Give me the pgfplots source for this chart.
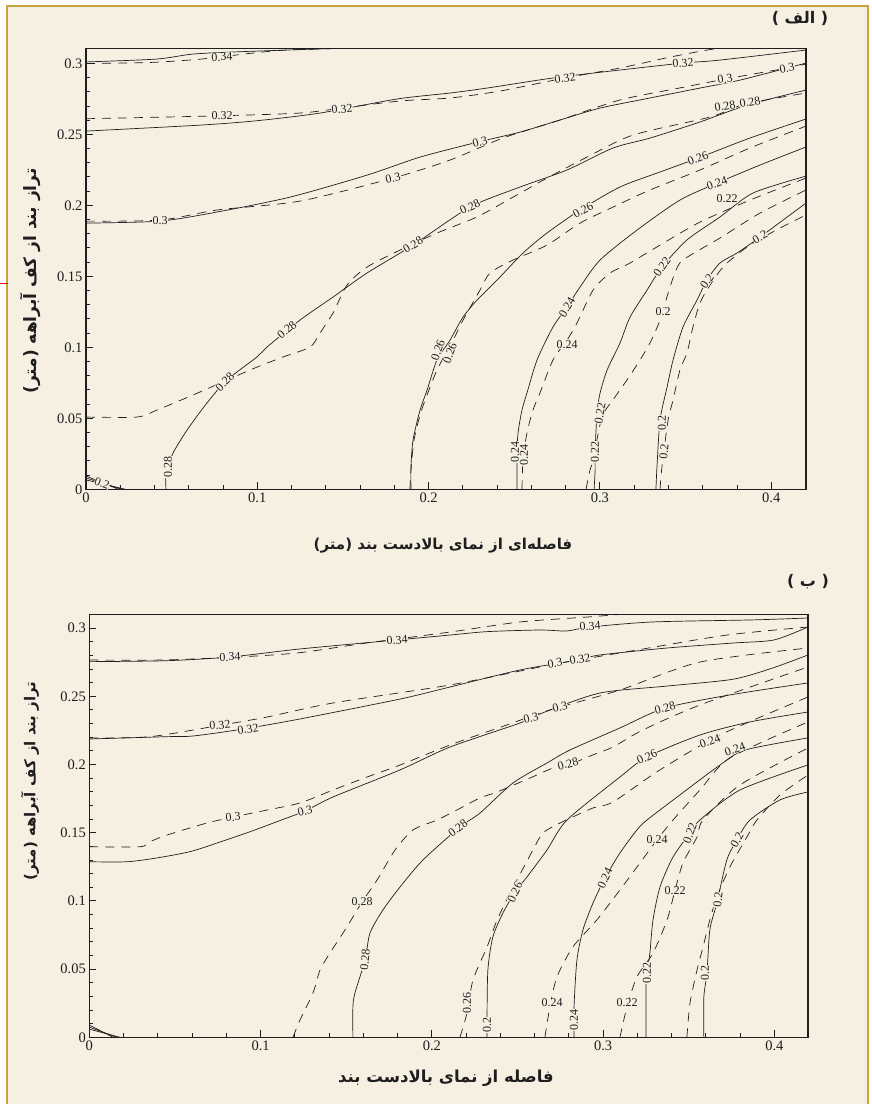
\documentclass[border=0pt]{standalone}
\usepackage{fontspec}
\setmainfont{Liberation Serif}
\newfontfamily\fa[Script=Arabic]{DejaVu Sans}
\TeXXeTstate=1
\usepackage{pgfplots}
\pgfplotsset{compat=1.18}
\definecolor{cream}{RGB}{245,240,226}
\definecolor{gold}{RGB}{201,163,64}
\definecolor{ink}{RGB}{30,30,30}
\pgfplotsset{
  contour/.style={
    scale only axis, xmin=0, ymin=0,
    axis line style={line width=1.5pt, ink},
    xtick={0,0.1,0.2,0.3,0.4}, ytick={0,0.05,0.1,0.15,0.2,0.25,0.3},
    minor x tick num=4, minor y tick num=4,
    tick align=inside, xtick pos=bottom, ytick pos=left,
    major tick length=7pt, minor tick length=4pt,
    every tick/.style={ink, line width=0.9pt},
    tick label style={font=\fontsize{14.5}{14.5}\selectfont, text=ink},
    scaled ticks=false,
    /pgf/number format/.cd, fixed, precision=2, assume math mode=true,
    /pgfplots/.cd,
    clip=true,
  },
  sl/.style={ink, line width=0.7pt, no marks, smooth, tension=0.45},
  dl/.style={ink, line width=0.7pt, no marks, smooth, tension=0.45, dash pattern=on 9pt off 7pt},
}
\tikzset{lbl/.style={font=\fontsize{12}{12}\selectfont, fill=cream, inner sep=0.3pt, text=ink}}
\newcommand{\lab}[4]{\node[lbl, rotate=#3] at (#1pt,-#2pt) {#4};}
\begin{document}
\begin{tikzpicture}
\useasboundingbox (0,0) rectangle (871pt,-1104pt);
\fill[white] (0,0) rectangle (871pt,-1104pt);
\fill[cream] (7pt,-6pt) rectangle (868pt,-1104pt);
\draw[gold, line width=2.5pt] (7pt,-1104pt) -- (7pt,-6pt) -- (868pt,-6pt) -- (868pt,-1104pt);
\draw[red, line width=1pt] (0pt,-283pt) -- (8pt,-283pt);

% ---------------- Panel A ----------------
\begin{axis}[contour, at={(86pt,-489.3pt)}, anchor=south west,
  width=720pt, height=441pt, xmax=0.4203, ymax=0.3106]
\addplot[sl] coordinates {(0,0.301)(0.041,0.303)(0.062,0.3065)(0.086,0.308)(0.125,0.3097)(0.16,0.311)(0.2,0.312)};
\addplot[dl] coordinates {(0,0.2999)(0.037,0.3006)(0.067,0.303)(0.097,0.3072)(0.117,0.3094)(0.144,0.3104)(0.17,0.312)};
\addplot[sl] coordinates {(0,0.2523)(0.0666,0.2565)(0.0998,0.2596)(0.1366,0.265)(0.1816,0.2749)(0.2125,0.2791)(0.2341,0.2826)(0.2726,0.2897)(0.3117,0.2953)(0.3485,0.3002)(0.3701,0.3023)(0.4203,0.3094)};
\addplot[dl] coordinates {(0,0.261)(0.0794,0.2631)(0.1249,0.265)(0.1494,0.2685)(0.1833,0.2735)(0.2125,0.2756)(0.2417,0.2805)(0.2796,0.2897)(0.3117,0.2967)(0.3409,0.3044)(0.3643,0.3097)(0.38,0.312)};
\addplot[sl] coordinates {(0,0.1875)(0.0432,0.1889)(0.0765,0.1953)(0.1191,0.2058)(0.1641,0.2213)(0.1951,0.234)(0.2289,0.2446)(0.2535,0.2516)(0.2767,0.2601)(0.3001,0.2685)(0.3292,0.2756)(0.3584,0.2826)(0.3818,0.2882)(0.4203,0.3002)};
\addplot[dl] coordinates {(0,0.1889)(0.0432,0.1896)(0.0765,0.1967)(0.1249,0.203)(0.1792,0.2192)(0.2125,0.2319)(0.2434,0.2474)(0.2767,0.2601)(0.3117,0.2742)(0.3467,0.2827)(0.373,0.2889)(0.4092,0.2967)(0.4203,0.2995)};
\addplot[sl] coordinates {(0.0467,0)(0.0467,0.0114)(0.0508,0.0255)(0.059,0.0417)(0.0706,0.0608)(0.0823,0.077)(0.0998,0.0932)(0.1057,0.1002)(0.1249,0.1192)(0.1442,0.1354)(0.164,0.1523)(0.1909,0.172)(0.2242,0.1988)(0.2534,0.2129)(0.2808,0.2249)(0.3077,0.2404)(0.3293,0.2474)(0.3584,0.2587)(0.3859,0.2706)(0.4203,0.2812)};
\addplot[dl] coordinates {(0,0.0509)(0.0298,0.0509)(0.0414,0.0558)(0.0665,0.0685)(0.0957,0.084)(0.115,0.0932)(0.1308,0.1002)(0.1366,0.1101)(0.1442,0.1242)(0.1524,0.1439)(0.164,0.1565)(0.1833,0.1685)(0.2049,0.1805)(0.2282,0.1918)(0.2493,0.2058)(0.2691,0.2192)(0.2925,0.234)(0.3193,0.2495)(0.3643,0.2622)(0.3847,0.2713)(0.4203,0.2791)};
\addplot[sl] coordinates {(0.1897,0)(0.1897,0.0157)(0.1909,0.0347)(0.195,0.0558)(0.1991,0.0699)(0.2049,0.0911)(0.2125,0.1051)(0.2201,0.1213)(0.2283,0.1333)(0.24,0.1474)(0.2551,0.1664)(0.2691,0.1805)(0.2884,0.1967)(0.3117,0.2129)(0.3351,0.2235)(0.3573,0.2333)(0.3876,0.2474)(0.4203,0.2608)};
\addplot[dl] coordinates {(0.1891,0)(0.1897,0.0136)(0.1915,0.0347)(0.195,0.0523)(0.198,0.0629)(0.2049,0.084)(0.2143,0.1051)(0.2201,0.1192)(0.23,0.1403)(0.2358,0.1523)(0.2493,0.1615)(0.2691,0.172)(0.2884,0.1875)(0.3077,0.1988)(0.3292,0.2108)(0.3584,0.2249)(0.3876,0.2404)(0.4203,0.2558)};
\addplot[sl] coordinates {(0.2516,0)(0.2516,0.0242)(0.2522,0.0396)(0.2545,0.0558)(0.2574,0.0678)(0.2633,0.0911)(0.2726,0.1143)(0.2808,0.1284)(0.2884,0.1425)(0.3001,0.1615)(0.3217,0.1826)(0.3467,0.2037)(0.3684,0.2157)(0.3935,0.2284)(0.4203,0.2411)};
\addplot[dl] coordinates {(0.2545,0)(0.2551,0.0206)(0.2574,0.0396)(0.2609,0.0558)(0.265,0.0678)(0.2726,0.0911)(0.2808,0.1051)(0.2866,0.1171)(0.296,0.1403)(0.3059,0.1523)(0.3176,0.1594)(0.3351,0.172)(0.3584,0.1882)(0.3876,0.2037)(0.4203,0.2192)};
\addplot[sl] coordinates {(0.2966,0)(0.2972,0.0136)(0.2972,0.0263)(0.2983,0.0537)(0.3001,0.0678)(0.3042,0.084)(0.3117,0.103)(0.3176,0.1213)(0.3275,0.1403)(0.3362,0.1565)(0.3508,0.1756)(0.3701,0.1918)(0.3894,0.2087)(0.4203,0.2206)};
\addplot[dl] coordinates {(0.2919,0)(0.2942,0.0136)(0.296,0.0206)(0.3012,0.0509)(0.3076,0.0629)(0.3158,0.077)(0.3234,0.0911)(0.3292,0.103)(0.3351,0.1192)(0.3398,0.1382)(0.3438,0.1523)(0.3485,0.1615)(0.3701,0.177)(0.3935,0.1946)(0.4203,0.2108)};
\addplot[sl] coordinates {(0.3327,0)(0.3333,0.0157)(0.3351,0.0488)(0.3392,0.072)(0.3427,0.0911)(0.3485,0.1143)(0.3567,0.1333)(0.3625,0.1474)(0.3701,0.1594)(0.38,0.1664)(0.3935,0.1777)(0.4203,0.2016)};
\addplot[dl] coordinates {(0.3351,0)(0.3362,0.0157)(0.3398,0.0488)(0.3427,0.0629)(0.3467,0.084)(0.3508,0.096)(0.3543,0.1143)(0.3584,0.1312)(0.3643,0.1439)(0.373,0.158)(0.3876,0.172)(0.4051,0.184)(0.4203,0.1932)};
\addplot[ink, line width=0.7pt] coordinates {(0,0.0094)(0.019,0)};
\addplot[ink, line width=0.7pt] coordinates {(0,0.008)(0.021,0)};
\addplot[ink, line width=0.7pt] coordinates {(0,0.0066)(0.023,0)};
\end{axis}

% ---------------- Panel B ----------------
\begin{axis}[contour, at={(89.3pt,-1037.3pt)}, anchor=south west,
  width=718.7pt, height=423pt, xmax=0.4196, ymax=0.3101]
\addplot[sl] coordinates {(0,0.2754)(0.0454,0.2761)(0.0821,0.2788)(0.123,0.2847)(0.1796,0.2913)(0.2106,0.2949)(0.2322,0.2974)(0.2631,0.2986)(0.2787,0.2979)(0.2923,0.3008)(0.3291,0.3045)(0.3874,0.306)(0.4196,0.3074)};
\addplot[dl] coordinates {(0,0.2766)(0.043,0.2766)(0.0897,0.279)(0.123,0.282)(0.1621,0.2891)(0.2106,0.2971)(0.2515,0.3045)(0.2906,0.3081)(0.3128,0.3103)(0.33,0.312)};
\addplot[sl] coordinates {(0,0.2187)(0.0454,0.2204)(0.0606,0.2209)(0.0898,0.226)(0.1231,0.2334)(0.1815,0.248)(0.2106,0.2568)(0.2515,0.2693)(0.2848,0.2766)(0.2982,0.2803)(0.3373,0.2854)(0.3764,0.2891)(0.3998,0.2913)(0.4196,0.3008)};
\addplot[dl] coordinates {(0,0.2194)(0.0356,0.2204)(0.0775,0.229)(0.1037,0.2348)(0.1423,0.2451)(0.2106,0.2583)(0.2689,0.2729)(0.3197,0.2839)(0.3723,0.2949)(0.4196,0.3008)};
\addplot[sl] coordinates {(0,0.1287)(0.022,0.1287)(0.0395,0.1315)(0.0588,0.1361)(0.0745,0.1424)(0.0938,0.1507)(0.1096,0.1581)(0.1259,0.1659)(0.1423,0.1762)(0.1814,0.196)(0.2106,0.2128)(0.2514,0.2304)(0.266,0.2385)(0.2981,0.2524)(0.3373,0.2575)(0.3758,0.2625)(0.3991,0.2708)(0.4196,0.2803)};
\addplot[dl] coordinates {(0,0.1397)(0.0296,0.1397)(0.0354,0.1434)(0.0454,0.1483)(0.0687,0.1571)(0.0839,0.1615)(0.1037,0.1666)(0.123,0.1718)(0.1423,0.1813)(0.1621,0.1908)(0.1814,0.1996)(0.2106,0.2143)(0.2438,0.229)(0.2689,0.24)(0.3098,0.2546)(0.3565,0.2751)(0.4196,0.2854)};
\addplot[sl] coordinates {(0.1539,0)(0.1539,0.0222)(0.1551,0.0325)(0.161,0.0567)(0.1639,0.0765)(0.1714,0.0933)(0.1814,0.1102)(0.1948,0.13)(0.2164,0.1542)(0.2281,0.1644)(0.2473,0.1864)(0.2672,0.2011)(0.2806,0.2106)(0.3098,0.2268)(0.3361,0.2414)(0.374,0.251)(0.4196,0.2598)};
\addplot[dl] coordinates {(0.1189,0)(0.123,0.0127)(0.1306,0.0325)(0.1347,0.0493)(0.1405,0.0618)(0.1504,0.0809)(0.1592,0.0992)(0.168,0.1153)(0.1785,0.1373)(0.189,0.152)(0.203,0.1593)(0.2147,0.1667)(0.2281,0.1755)(0.238,0.1798)(0.2573,0.1901)(0.2707,0.1974)(0.2795,0.1996)(0.294,0.207)(0.3057,0.2128)(0.3232,0.2253)(0.3565,0.2436)(0.4196,0.2715)};
\addplot[sl] coordinates {(0.2322,0)(0.2322,0.0127)(0.2327,0.0493)(0.2356,0.0735)(0.2415,0.0911)(0.2485,0.1065)(0.2555,0.1175)(0.2672,0.1373)(0.2789,0.1593)(0.3098,0.1908)(0.3256,0.2055)(0.3565,0.2216)(0.3857,0.2312)(0.4196,0.2385)};
\addplot[dl] coordinates {(0.2164,0)(0.2205,0.0178)(0.224,0.042)(0.2322,0.0662)(0.2381,0.086)(0.2457,0.1058)(0.259,0.1373)(0.2649,0.1498)(0.2748,0.1571)(0.294,0.1681)(0.3057,0.1725)(0.3331,0.196)(0.3682,0.2216)(0.4196,0.2495)};
\addplot[sl] coordinates {(0.283,0)(0.283,0.0222)(0.2847,0.0567)(0.2882,0.0787)(0.2941,0.0985)(0.3011,0.1168)(0.3098,0.1351)(0.3197,0.152)(0.3256,0.1593)(0.3448,0.1777)(0.3682,0.1996)(0.3828,0.2106)(0.4196,0.2195)};
\addplot[dl] coordinates {(0.266,0)(0.2689,0.0222)(0.273,0.0442)(0.2823,0.0662)(0.2963,0.086)(0.3098,0.108)(0.3215,0.1278)(0.3314,0.1447)(0.3408,0.1593)(0.3565,0.1813)(0.374,0.2048)(0.4196,0.2312)};
\addplot[sl] coordinates {(0.325,0)(0.325,0.0369)(0.3256,0.0471)(0.3273,0.0618)(0.3291,0.086)(0.3332,0.1102)(0.3408,0.1322)(0.3507,0.1498)(0.3565,0.1593)(0.3799,0.1813)(0.4196,0.1997)};
\addplot[dl] coordinates {(0.3098,0)(0.3139,0.0222)(0.3197,0.0442)(0.3291,0.0618)(0.3373,0.086)(0.342,0.108)(0.3466,0.1278)(0.3548,0.1468)(0.3583,0.1593)(0.3799,0.185)(0.4196,0.2121)};
\addplot[sl] coordinates {(0.3588,0)(0.3588,0.0295)(0.3606,0.0471)(0.3623,0.0787)(0.3664,0.0985)(0.3722,0.13)(0.3781,0.1447)(0.3857,0.1593)(0.4032,0.174)(0.4196,0.1799)};
\addplot[dl] coordinates {(0.3489,0)(0.3507,0.0251)(0.3548,0.0493)(0.3583,0.0662)(0.3623,0.086)(0.3664,0.1029)(0.374,0.1249)(0.3839,0.1468)(0.3898,0.1593)(0.4032,0.1776)(0.4196,0.1923)};
\addplot[ink, line width=0.7pt] coordinates {(0,0.009)(0.014,0)};
\addplot[ink, line width=0.7pt] coordinates {(0,0.0075)(0.016,0)};
\addplot[ink, line width=0.7pt] coordinates {(0,0.006)(0.018,0)};
\end{axis}

% ---------------- contour labels A ----------------
\lab{222}{57}{3}{0.34}
\lab{222}{116}{0}{0.32}
\lab{342}{109}{5}{0.32}
\lab{565}{78}{8}{0.32}
\lab{683}{63}{5}{0.32}
\lab{160}{221}{0}{0.3}
\lab{393}{178}{12}{0.3}
\lab{480}{142}{14}{0.3}
\lab{725}{79}{8}{0.3}
\lab{787}{68}{10}{0.3}
\lab{725}{106}{10}{0.28}
\lab{750}{102}{10}{0.28}
\lab{470}{207}{25}{0.28}
\lab{413}{245}{32}{0.28}
\lab{287}{330}{40}{0.28}
\lab{225}{382}{45}{0.28}
\lab{168}{467}{90}{0.28}
\lab{583}{210}{28}{0.26}
\lab{698}{158}{20}{0.26}
\lab{438}{350}{70}{0.26}
\lab{450}{353}{70}{0.26}
\lab{567}{307}{60}{0.24}
\lab{567}{345}{0}{0.24}
\lab{515}{452}{90}{0.24}
\lab{524}{455}{90}{0.24}
\lab{717}{183}{20}{0.24}
\lab{727}{199}{0}{0.22}
\lab{662}{267}{55}{0.22}
\lab{595}{452}{90}{0.22}
\lab{600}{413}{80}{0.22}
\lab{663}{312}{0}{0.2}
\lab{707}{281}{55}{0.2}
\lab{760}{237}{30}{0.2}
\lab{662}{423}{90}{0.2}
\lab{664}{452}{85}{0.2}
\lab{102}{483}{-20}{0.2}
% ---------------- contour labels B ----------------
\lab{230}{657}{2}{0.34}
\lab{397}{640}{4}{0.34}
\lab{590}{626}{4}{0.34}
\lab{220}{725}{6}{0.32}
\lab{248}{729}{8}{0.32}
\lab{555}{663}{10}{0.3}
\lab{580}{659}{10}{0.32}
\lab{233}{817}{4}{0.3}
\lab{305}{811}{15}{0.3}
\lab{531}{718}{14}{0.3}
\lab{560}{707}{14}{0.3}
\lab{665}{708}{15}{0.28}
\lab{568}{764}{15}{0.28}
\lab{458}{828}{38}{0.28}
\lab{362}{902}{0}{0.28}
\lab{365}{960}{85}{0.28}
\lab{647}{757}{25}{0.26}
\lab{515}{892}{65}{0.26}
\lab{467}{1003}{90}{0.26}
\lab{487}{1025}{90}{0.2}
\lab{710}{741}{20}{0.24}
\lab{735}{749}{20}{0.24}
\lab{657}{840}{0}{0.24}
\lab{605}{878}{65}{0.24}
\lab{552}{1003}{0}{0.24}
\lab{574}{1020}{90}{0.24}
\lab{690}{833}{70}{0.22}
\lab{675}{891}{0}{0.22}
\lab{647}{973}{90}{0.22}
\lab{627}{1003}{0}{0.22}
\lab{737}{840}{60}{0.2}
\lab{718}{900}{85}{0.2}
\lab{705}{973}{90}{0.2}

% ---------------- Persian texts ----------------
\node[font=\fa\bfseries\fontsize{17}{20}\selectfont, rotate=90, text=ink] at (30pt,-281pt) {\beginR تراز بند از کف آبراهه (متر)\endR};
\node[font=\fa\bfseries\fontsize{15}{18}\selectfont, rotate=90, text=ink] at (30pt,-781pt) {\beginR تراز بند از کف آبراهه (متر)\endR};
\node[font=\fa\bfseries\fontsize{15}{18}\selectfont, text=ink] at (443pt,-546pt) {\beginR فاصله‌ای از نمای بالادست بند (متر)\endR};
\node[font=\fa\bfseries\fontsize{16.5}{19}\selectfont, text=ink] at (446pt,-1078pt) {\beginR فاصله از نمای بالادست بند\endR};
\node[font=\fa\bfseries\fontsize{16}{18}\selectfont, text=ink] at (800pt,-18pt) {\beginR( الف )\endR};
\node[font=\fa\bfseries\fontsize{16}{18}\selectfont, text=ink] at (808pt,-582pt) {\beginR( ب )\endR};
\end{tikzpicture}
\end{document}
